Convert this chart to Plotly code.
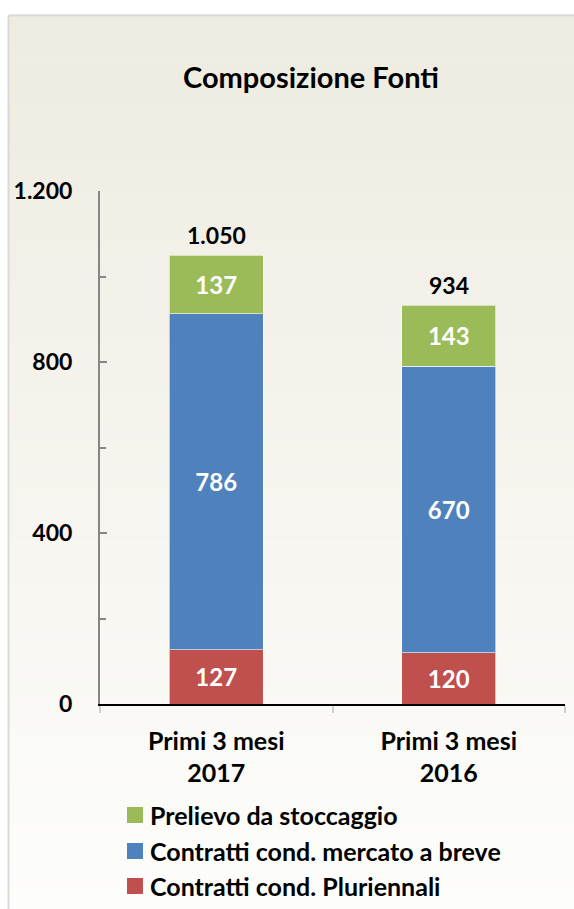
import plotly.graph_objects as go

# Source composition, first quarter (values in millions of cubic metres)
categories = ["Primi 3 mesi<br>2017", "Primi 3 mesi<br>2016"]
pluriennali = [127, 120]
mercato_breve = [786, 670]
stoccaggio = [137, 143]
totals = [1050, 934]

y_tick_vals = [0, 400, 800, 1200]
y_tick_text = ["0", "400", "800", "1.200"]

FONT = "Lato"
W, H = 574, 909
L, R, T, B = 100, 9, 191, 205
PW, PH = W - L - R, H - T - B


def it_num(v):
    return f"{v:,}".replace(",", ".")


def px_to_paper(px, py):
    return (px - L) / PW, (H - B - py) / PH


fig = go.Figure()

series = [
    ("Contratti cond. Pluriennali", pluriennali, "#C0504D"),
    ("Contratti cond. mercato a breve", mercato_breve, "#4F81BD"),
    ("Prelievo da stoccaggio", stoccaggio, "#9BBB59"),
]
for name, vals, color in series:
    fig.add_trace(go.Bar(
        name=name, x=categories, y=vals, showlegend=False,
        marker=dict(color=color, line=dict(color="rgba(255,255,255,0.6)", width=1)),
        text=[it_num(v) for v in vals], textposition="inside",
        insidetextanchor="middle", textangle=0, constraintext="none",
        textfont=dict(family=FONT, size=24, color="white", weight="bold"),
        width=0.405,
    ))

# Totals above each stack
for c, t in zip(categories, totals):
    fig.add_annotation(x=c, y=t, text=it_num(t), showarrow=False,
                       yanchor="bottom", yshift=4,
                       font=dict(family=FONT, size=23, color="black", weight="bold"))

# Panel background: vertical gradient from warm beige to near white
shapes = []
n = 80
top_px, bot_px = 15, H
c0, c1 = (238, 235, 224), (253, 253, 251)
for i in range(n):
    y0p = top_px + (bot_px - top_px) * i / n
    y1p = top_px + (bot_px - top_px) * (i + 1) / n
    f = (i + 0.5) / n
    col = tuple(round(a + (b - a) * f) for a, b in zip(c0, c1))
    x0, ya = px_to_paper(9, y0p)
    x1, yb = px_to_paper(W + 2, y1p)
    shapes.append(dict(type="rect", xref="paper", yref="paper", layer="below",
                       x0=x0, x1=x1, y0=yb, y1=ya + 0.001,
                       fillcolor="rgb(%d,%d,%d)" % col, line=dict(width=0)))
# Panel border (left and top)
bx, by_top = px_to_paper(8.5, 15.5)
_, by_bot = px_to_paper(8.5, H + 2)
ex, _ = px_to_paper(W + 2, 15.5)
shapes.append(dict(type="line", xref="paper", yref="paper", x0=bx, x1=bx,
                   y0=by_bot, y1=by_top, line=dict(color="#D9D9D9", width=2)))
shapes.append(dict(type="line", xref="paper", yref="paper", x0=bx, x1=ex,
                   y0=by_top, y1=by_top, line=dict(color="#D9D9D9", width=2)))

# Legend: colour squares with labels, top entry first
legend_rows = [815, 851, 886]
for (name, _, color), row in zip(reversed(series), legend_rows):
    sx0, sy0 = px_to_paper(127, row - 8)
    sx1, sy1 = px_to_paper(143, row + 8)
    shapes.append(dict(type="rect", xref="paper", yref="paper",
                       x0=sx0, x1=sx1, y0=sy1, y1=sy0,
                       fillcolor=color, line=dict(width=0)))
    tx, ty = px_to_paper(148, row)
    fig.add_annotation(xref="paper", yref="paper", x=tx, y=ty, text=name,
                       showarrow=False, xanchor="left", yanchor="middle",
                       font=dict(family=FONT, size=25, color="black", weight="bold"))

fig.update_layout(
    width=W, height=H,
    margin=dict(l=L, r=R, t=T, b=B),
    paper_bgcolor="white", plot_bgcolor="rgba(0,0,0,0)",
    barmode="stack", bargap=0.6, showlegend=False,
    shapes=shapes,
    title=dict(text="<b>Composizione Fonti</b>", x=311 / W, xanchor="center",
               y=1 - 78 / H, yanchor="middle",
               font=dict(family=FONT, size=29, color="black")),
    yaxis=dict(range=[0, 1200], tickvals=y_tick_vals, ticktext=y_tick_text,
               showgrid=False, zeroline=False,
               showline=True, linecolor="#868686", linewidth=2,
               ticks="inside", ticklen=7, tickcolor="#868686", tickwidth=1.5,
               minor=dict(dtick=200, ticks="inside", ticklen=6,
                          tickcolor="#868686", tickwidth=1.5),
               ticklabelstandoff=21,
               tickfont=dict(family=FONT, size=23, color="black", weight="bold")),
    xaxis=dict(showgrid=False, showline=True, linecolor="black", linewidth=1.5,
               ticks="outside", tickson="boundaries", ticklen=7,
               tickcolor="#D0D0D0", tickwidth=2, ticklabelstandoff=14,
               tickfont=dict(family=FONT, size=25, color="black", weight="bold")),
)

fig.write_html("out.html")
